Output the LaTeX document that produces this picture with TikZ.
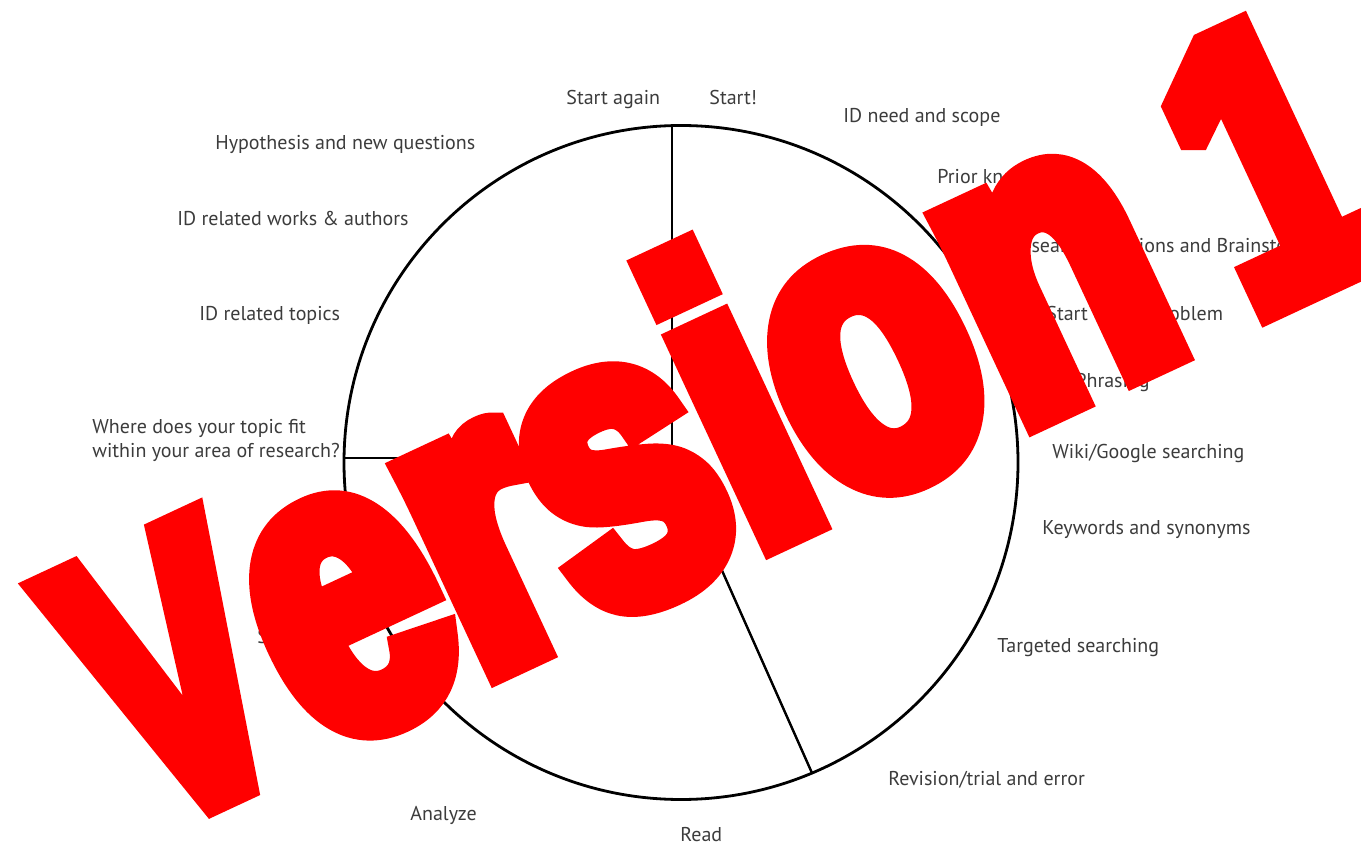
\documentclass[tikz,border=0pt]{standalone}
\usepackage{graphicx}
\usepackage{fontspec}
\setmainfont{PT Sans}
\newfontfamily\impfont[FakeStretch=0.77,FakeBold=7]{Liberation Sans}
\definecolor{labelgray}{HTML}{3C3C3C}
\newcommand{\capsz}{\fontsize{194pt}{194pt}\selectfont}
\newcommand{\lowsz}{\fontsize{208pt}{208pt}\selectfont}
\newcommand{\onesz}{\fontsize{194pt}{194pt}\selectfont}
\begin{document}
\begin{tikzpicture}[x=0.5pt,y=-0.5pt,
  lbl/.style={font=\fontsize{10pt}{12pt}\selectfont, text=labelgray, inner sep=0, anchor=base west},
  ring/.style={line width=1.4pt, draw=black},
  spoke/.style={line width=1.2pt, draw=black},
  stamp/.style={font=\impfont\bfseries, text=red, inner sep=0, anchor=base west, rotate=25}]
\useasboundingbox (0,0) rectangle (1361,844);
\clip (0,0) rectangle (1361,844);
\fill[white] (0,0) rectangle (1361,844);
% circle and dividers
\coordinate (C) at (681,462.5);
\coordinate (J) at (672,458);
\coordinate (T) at (672,125.6);
\coordinate (L) at (344,458);
\coordinate (B) at (812,773);
\draw[ring] (C) circle [radius=337];
\draw[spoke] (T) -- (J) -- (L);
\draw[spoke] (J) -- (B);
% labels
\node[lbl] (l1) at (566,105) {Start again};
\node[lbl] (l2) at (709,105) {Start!};
\node[lbl] (l3) at (843,123) {ID need and scope};
\node[lbl] (l4) at (937,184) {Prior knowledge};
\node[lbl] (l5) at (1010,253) {Research questions and Brainstorming};
\node[lbl] (l6) at (1046,321) {Start with a problem};
\node[lbl] (l7) at (1075,388) {Phrasing};
\node[lbl] (l8) at (1052,459) {Wiki/Google searching};
\node[lbl] (l9) at (1042,535) {Keywords and synonyms};
\node[lbl] (l10) at (997,653) {Targeted searching};
\node[lbl] (l11) at (888,785) {Revision/trial and error};
\node[lbl] (l12) at (680,841) {Read};
\node[lbl] (l13) at (410,820) {Analyze};
\node[lbl] (l14) at (257,643) {Synthesize};
\node[lbl, align=left, anchor=west] (l15) at (92,440) {Where does your topic fit\\within your area of research?};
\node[lbl] (l16) at (199,321) {ID related topics};
\node[lbl] (l17) at (177,226) {ID related works \& authors};
\node[lbl] (l18) at (215,150) {Hypothesis and new questions};
% stamp
\begin{scope}[miter limit=2]
\node[stamp] (ver) at (148.8,831.9) {\scalebox{0.88}[1]{\capsz V}\hspace{5pt}{\lowsz ersio\kern3pt n}\hspace{32pt}{\onesz 1}};
\end{scope}
\end{tikzpicture}
\end{document}
